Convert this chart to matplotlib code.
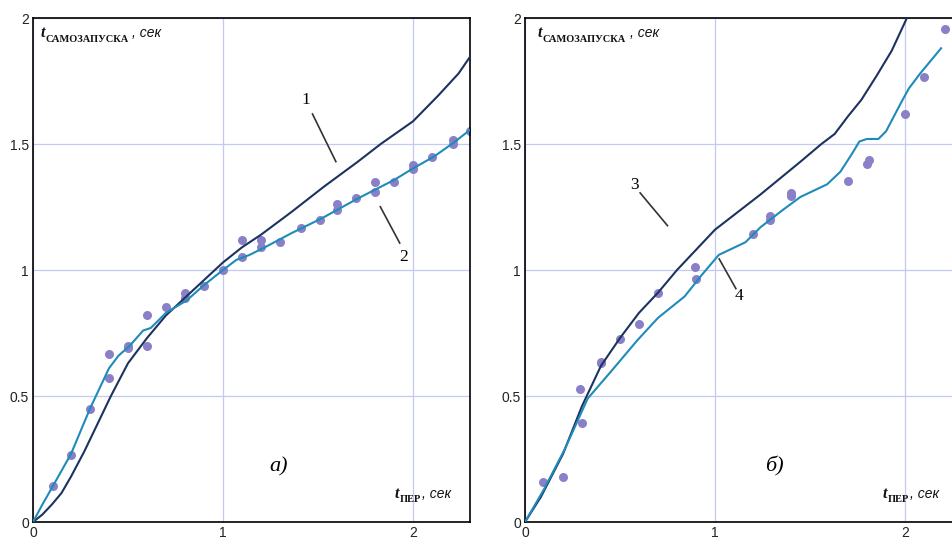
import matplotlib
matplotlib.use("Agg")
import matplotlib.pyplot as plt

# ---------------- data: panel a) ----------------
x_curve1 = [0, 0.05, 0.10, 0.15, 0.20, 0.27, 0.34, 0.41, 0.50, 0.60, 0.70, 0.80, 0.90,
            1.00, 1.10, 1.20, 1.36, 1.53, 1.71, 1.83, 2.00, 2.13, 2.24, 2.30]
y_curve1 = [0, 0.03, 0.07, 0.115, 0.18, 0.28, 0.39, 0.50, 0.63, 0.73, 0.82, 0.89, 0.96,
            1.03, 1.09, 1.14, 1.23, 1.33, 1.43, 1.50, 1.59, 1.69, 1.78, 1.846]

x_curve2 = [0, 0.05, 0.105, 0.20, 0.30, 0.40, 0.45, 0.51, 0.58, 0.62, 0.70, 0.81, 0.90,
            1.00, 1.07, 1.14, 1.22, 1.32, 1.36, 1.52, 1.71, 1.90, 2.00, 2.11, 2.21, 2.30]
y_curve2 = [0, 0.07, 0.143, 0.27, 0.45, 0.61, 0.66, 0.70, 0.76, 0.77, 0.83, 0.88, 0.94,
            1.00, 1.04, 1.06, 1.09, 1.13, 1.146, 1.205, 1.284, 1.357, 1.403, 1.45, 1.503, 1.556]

x_dots_a = [0.105, 0.20, 0.30, 0.40, 0.40, 0.50, 0.50, 0.60, 0.60, 0.70, 0.80, 0.80, 0.90,
            1.00, 1.10, 1.10, 1.20, 1.20, 1.30, 1.41, 1.51, 1.60, 1.60, 1.70, 1.80, 1.80,
            1.90, 2.00, 2.00, 2.10, 2.21, 2.21, 2.30]
y_dots_a = [0.143, 0.265, 0.45, 0.665, 0.57, 0.69, 0.70, 0.82, 0.70, 0.855, 0.91, 0.89, 0.935,
            1.00, 1.12, 1.05, 1.12, 1.09, 1.11, 1.165, 1.20, 1.26, 1.24, 1.284, 1.35, 1.31,
            1.35, 1.40, 1.418, 1.45, 1.516, 1.50, 1.553]

# ---------------- data: panel б) ----------------
x_curve3 = [0, 0.084, 0.20, 0.30, 0.40, 0.50, 0.60, 0.70, 0.80, 0.90, 1.00, 1.24, 1.45,
            1.56, 1.63, 1.70, 1.77, 1.85, 1.93, 2.01, 2.05]
y_curve3 = [0, 0.10, 0.27, 0.46, 0.62, 0.73, 0.83, 0.91, 1.00, 1.08, 1.16, 1.30, 1.43,
            1.50, 1.54, 1.61, 1.675, 1.77, 1.87, 2.00, 2.07]

x_curve4 = [0, 0.10, 0.21, 0.33, 0.45, 0.59, 0.70, 0.84, 0.93, 1.02, 1.16, 1.24, 1.36,
            1.45, 1.59, 1.66, 1.72, 1.76, 1.80, 1.86, 1.90, 1.98, 2.02, 2.08, 2.19]
y_curve4 = [0, 0.13, 0.29, 0.49, 0.595, 0.72, 0.81, 0.895, 0.98, 1.06, 1.11, 1.17, 1.24,
            1.29, 1.34, 1.39, 1.46, 1.51, 1.52, 1.52, 1.55, 1.665, 1.72, 1.78, 1.88]

x_dots_b = [0.097, 0.20, 0.29, 0.30, 0.40, 0.40, 0.50, 0.60, 0.70, 0.895, 0.90, 1.20, 1.29,
            1.29, 1.40, 1.40, 1.70, 1.80, 1.81, 2.00, 2.10, 2.21]
y_dots_b = [0.157, 0.178, 0.527, 0.394, 0.629, 0.635, 0.725, 0.787, 0.91, 1.01, 0.964, 1.142,
            1.213, 1.20, 1.295, 1.304, 1.354, 1.419, 1.436, 1.621, 1.765, 1.956]

x_ticks = [0, 1, 2]
x_tick_labels = ["0", "1", "2"]
y_ticks = [0, 0.5, 1, 1.5, 2]
y_tick_labels = ["0", "0.5", "1", "1.5", "2"]

DARK = "#1c3360"
TEAL = "#1f8bb9"
DOT = "#8a80c8"
GRID = "#c3c9f0"

W, H = 953, 541
fig = plt.figure(figsize=(W / 100, H / 100), dpi=100)
fig.patch.set_facecolor("white")
axL = fig.add_axes([33 / W, 19 / H, 437 / W, 504 / H])
axR = fig.add_axes([525 / W, 19 / H, 437 / W, 504 / H])


def setup(ax):
    ax.set_xlim(0, 2.3)
    ax.set_ylim(0, 2)
    ax.set_xticks(x_ticks)
    ax.set_xticklabels(x_tick_labels)
    ax.set_yticks(y_ticks)
    ax.set_yticklabels(y_tick_labels)
    ax.grid(True, color=GRID, lw=0.9, zorder=0)
    ax.set_axisbelow(True)
    ax.tick_params(length=0, pad=3, labelsize=10, labelcolor="#222222")
    for lab in ax.get_xticklabels() + ax.get_yticklabels():
        lab.set_family("Liberation Sans")
    for s in ax.spines.values():
        s.set_color("black")
        s.set_linewidth(1.2)


def axis_labels(ax, xt, yt, sub_top, comma_top, xb, yb, sub_bot, comma_bot):
    kw_t = dict(fontsize=11.5, family="Liberation Serif", style="italic", weight="bold",
                va="baseline", ha="left", color="#111111")
    kw_s = dict(fontsize=7.5, family="Liberation Serif", weight="bold",
                va="baseline", ha="left", color="#111111")
    kw_c = dict(fontsize=10, family="Liberation Sans", style="italic",
                va="baseline", ha="left", color="#111111")
    ax.annotate("t", (xt, yt), **kw_t)
    ax.annotate("САМОЗАПУСКА", (xt, yt), xytext=(5, -5), textcoords="offset pixels", **kw_s)
    ax.annotate(", сек", (xt, yt), xytext=(comma_top, 0), textcoords="offset pixels", **kw_c)
    ax.annotate("t", (xb, yb), **kw_t)
    ax.annotate("ПЕР", (xb, yb), xytext=(5, -4), textcoords="offset pixels", **kw_s)
    ax.annotate(", сек", (xb, yb), xytext=(comma_bot, 0), textcoords="offset pixels", **kw_c)


for ax in (axL, axR):
    setup(ax)

# panel a)
axL.plot(x_dots_a, y_dots_a, "o", color=DOT, ms=6.5, mec="none", zorder=2)
axL.plot(x_curve1, y_curve1, color=DARK, lw=1.5, zorder=3)
axL.plot(x_curve2, y_curve2, color=TEAL, lw=1.5, zorder=3)
axis_labels(axL, 0.037, 1.925, "САМОЗАПУСКА", 92, 1.905, 0.095, "ПЕР", 27)
axL.text(1.29, 0.22, "а)", fontsize=16, family="Liberation Serif", style="italic",
         ha="center", va="center")
axL.text(1.435, 1.675, "1", fontsize=12.5, family="Liberation Serif", ha="center", va="center")
axL.plot([1.471, 1.594], [1.619, 1.43], color="#333333", lw=1.2, zorder=4)
axL.text(1.95, 1.05, "2", fontsize=12.5, family="Liberation Serif", ha="center", va="center")
axL.plot([1.828, 1.93], [1.251, 1.107], color="#333333", lw=1.2, zorder=4)

# panel б)
axR.plot(x_dots_b, y_dots_b, "o", color=DOT, ms=6.5, mec="none", zorder=2)
axR.plot(x_curve3, y_curve3, color=DARK, lw=1.5, zorder=3)
axR.plot(x_curve4, y_curve4, color=TEAL, lw=1.5, zorder=3)
axis_labels(axR, 0.067, 1.925, "САМОЗАПУСКА", 92, 1.884, 0.095, "ПЕР", 27)
axR.text(1.31, 0.22, "б)", fontsize=16, family="Liberation Serif", style="italic",
         ha="center", va="center")
axR.text(0.575, 1.338, "3", fontsize=12.5, family="Liberation Serif", ha="center", va="center")
axR.plot([0.606, 0.75], [1.306, 1.176], color="#333333", lw=1.2, zorder=4)
axR.text(1.127, 0.896, "4", fontsize=12.5, family="Liberation Serif", ha="center", va="center")
axR.plot([1.022, 1.11], [1.044, 0.926], color="#333333", lw=1.2, zorder=4)

fig.savefig("out.png", dpi=100)
